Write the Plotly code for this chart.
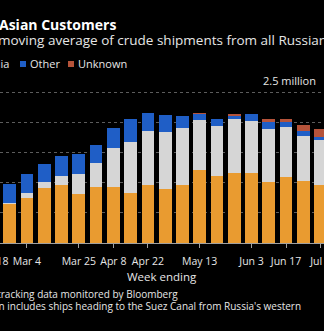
import datetime as dt
import plotly.graph_objects as go

# Weekly crude shipments (million barrels a day, four-week moving average)
weeks = ["2022-02-25", "2022-03-04", "2022-03-11", "2022-03-18", "2022-03-25",
         "2022-04-01", "2022-04-08", "2022-04-15", "2022-04-22", "2022-04-29",
         "2022-05-06", "2022-05-13", "2022-05-20", "2022-05-27", "2022-06-03",
         "2022-06-10", "2022-06-17", "2022-06-24", "2022-07-01"]
china = [0.65, 0.74, 0.91, 0.96, 0.81, 0.92, 0.92, 0.82, 0.96, 0.89,
         0.96, 1.21, 1.11, 1.16, 1.16, 1.01, 1.10, 1.03, 0.96]
india = [0.01, 0.08, 0.10, 0.15, 0.34, 0.40, 0.66, 0.85, 0.90, 0.95,
         0.94, 0.83, 0.83, 0.90, 0.86, 0.88, 0.82, 0.74, 0.74]
other = [0.32, 0.32, 0.29, 0.33, 0.32, 0.30, 0.33, 0.39, 0.30, 0.28,
         0.21, 0.10, 0.12, 0.05, 0.11, 0.12, 0.08, 0.08, 0.06]
unknown = [0.0, 0.0, 0.0, 0.0, 0.0, 0.0, 0.0, 0.0, 0.0, 0.0,
           0.0, 0.01, 0.0, 0.03, 0.0, 0.04, 0.06, 0.11, 0.13]

series_names = ["China", "India", "Other", "Unknown"]
series_colors = ["#e99b30", "#d6d6d6", "#1f5ec6", "#b5533a"]

tick_dates = ["2022-03-04", "2022-03-25", "2022-04-08", "2022-04-22",
              "2022-05-13", "2022-06-03", "2022-06-17", "2022-07-01"]
tick_labels = ["Mar 4", "Mar 25", "Apr 8", "Apr 22", "May 13", "Jun 3", "Jun 17", "Jul 1"]
hidden_tick = ("2022-02-18", "Feb 18")

W, H = 324, 331
TOP, BOTTOM = 74, 88
PLOT_H = H - TOP - BOTTOM
FONT = "Open Sans"
TXT = "#e6e6e6"

first = dt.datetime.fromisoformat(weeks[0])
x_start = first - dt.timedelta(days=3.93)
x_end = x_start + dt.timedelta(days=131.3)


def px_x(px):
    return px / W


def px_y(py):
    return (H - BOTTOM - py) / PLOT_H


def date_frac(d):
    d = dt.datetime.fromisoformat(d)
    return (d - x_start) / (x_end - x_start)


fig = go.Figure()
for name, vals, color in zip(series_names, [china, india, other, unknown], series_colors):
    fig.add_trace(go.Bar(x=weeks, y=vals, name=name, marker_color=color,
                         marker_line_width=0, showlegend=False))

ann = []
ann.append(dict(text="<b>Asian Customers</b>", x=px_x(0), y=px_y(24), xanchor="left",
                yanchor="middle", xshift=-2, font=dict(size=14, color="#ffffff")))
ann.append(dict(text="moving average of crude shipments from all Russian ports",
                x=px_x(0), y=px_y(40), xanchor="left", yanchor="middle", xshift=-3,
                font=dict(size=13.5, color=TXT)))
ann.append(dict(text="2.5 million", xref="paper", x=px_x(317), yref="y", y=2.5,
                xanchor="right", yanchor="bottom", yshift=3, font=dict(size=11, color=TXT)))
ann.append(dict(text="Week ending", x=0.5, y=px_y(276), xanchor="center", yanchor="middle",
                font=dict(size=11.5, color=TXT)))
ann.append(dict(text=hidden_tick[1], x=date_frac(hidden_tick[0]), y=px_y(261),
                xanchor="center", yanchor="middle", font=dict(size=10.5, color=TXT)))
ann.append(dict(text="Source: Vessel tracking data monitored by Bloomberg",
                x=px_x(179), y=px_y(294), xanchor="right", yanchor="middle",
                font=dict(size=10, color=TXT)))
ann.append(dict(text="Note: Unknown includes ships heading to the Suez Canal from Russia's western",
                x=px_x(302), y=px_y(306), xanchor="right", yanchor="middle",
                font=dict(size=10, color=TXT)))

# Compact legend: square swatch followed by its label
legend_left = [-70, -26, 20, 68]
shapes = []
for name, color, left in zip(series_names, series_colors, legend_left):
    shapes.append(dict(type="rect", xref="paper", yref="paper",
                       x0=px_x(left), x1=px_x(left + 6), y0=px_y(67), y1=px_y(61),
                       fillcolor=color, line_width=0))
    ann.append(dict(text=name, x=px_x(left + 9), y=px_y(64), xanchor="left",
                    yanchor="middle", font=dict(size=11, color=TXT)))

for a in ann:
    a.setdefault("xref", "paper")
    a.setdefault("yref", "paper")
    a["showarrow"] = False
    a["borderpad"] = 0

fig.update_layout(
    width=W, height=H,
    margin=dict(l=0, r=0, t=TOP, b=BOTTOM, pad=0, autoexpand=False),
    paper_bgcolor="#000000", plot_bgcolor="#000000",
    barmode="stack", bargap=0.265,
    font=dict(family=FONT, color=TXT),
    annotations=ann, shapes=shapes,
    xaxis=dict(type="date", range=[x_start, x_end], tickvals=tick_dates,
               ticktext=tick_labels, tickangle=0, ticks="outside", ticklen=4,
               tickcolor="#a0a0a0", showgrid=False, showline=True, automargin=False,
               linecolor="#a0a0a0", linewidth=1, ticklabelstandoff=4,
               ticklabeloverflow="allow", tickfont=dict(size=10.5, color=TXT)),
    yaxis=dict(range=[0, PLOT_H / 60.4], dtick=0.5, showticklabels=False, automargin=False,
               showgrid=True, gridcolor="#5c5c5c", griddash="dot", gridwidth=1,
               zeroline=False),
)

fig.write_html("out.html")
